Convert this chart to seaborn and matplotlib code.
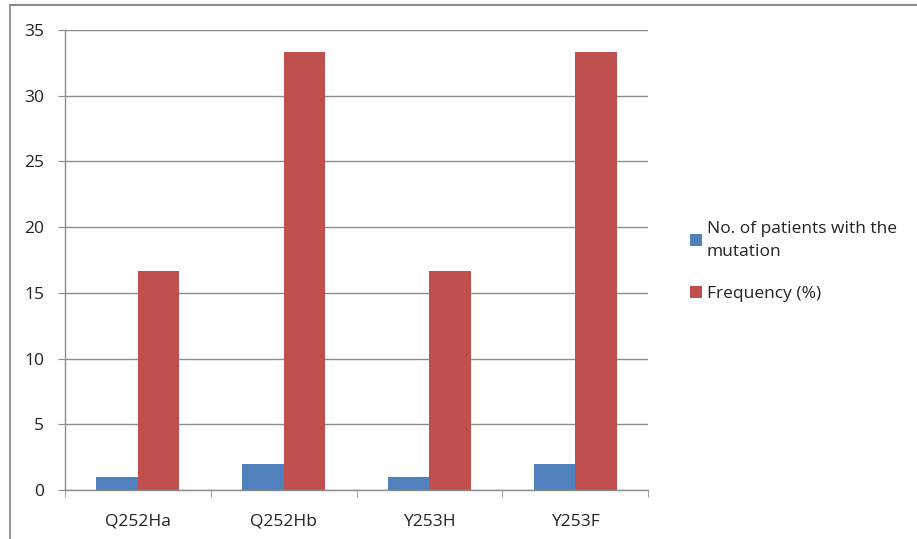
import pandas as pd
import matplotlib
matplotlib.use('Agg')
import matplotlib.pyplot as plt
import seaborn as sns
from matplotlib.patches import Patch
from matplotlib.lines import Line2D

# chart data
mutations = ['Q252Ha', 'Q252Hb', 'Y253H', 'Y253F']
patients = [1, 2, 1, 2]
frequency = [16.67, 33.33, 16.67, 33.33]
series_names = ['No. of patients with the\nmutation', 'Frequency (%)']
colors = ['#4F81BD', '#C0504D']

df = pd.DataFrame({
    'Mutation': mutations * 2,
    'Value': patients + frequency,
    'Series': [series_names[0]] * 4 + [series_names[1]] * 4,
})

sns.set_style("white")
plt.rcParams['font.family'] = ['Open Sans', 'DejaVu Sans']

fig = plt.figure(figsize=(9.17, 5.39), dpi=100)
ax = fig.add_axes([65 / 917, 1 - 490 / 539, 583 / 917, 460 / 539])

sns.barplot(data=df, x='Mutation', y='Value', hue='Series', palette=colors,
            width=0.57, gap=0, saturation=1, linewidth=0, ax=ax, legend=False)

ax.set_xlim(-0.5, 3.5)
ax.set_ylim(0, 35)
ax.set_yticks(range(0, 36, 5))
ax.yaxis.grid(True, color='#8c8c8c', linewidth=1)
ax.set_axisbelow(True)
ax.set_xlabel('')
ax.set_ylabel('')

for s in ['top', 'right']:
    ax.spines[s].set_visible(False)
for s in ['left', 'bottom']:
    ax.spines[s].set_color('#8c8c8c')
    ax.spines[s].set_linewidth(1)

ax.tick_params(axis='y', length=5, color='#8c8c8c', labelsize=12.5, pad=10,
               labelcolor='#222222', left=True)
ax.tick_params(axis='x', which='major', length=0, labelsize=12.5, pad=17,
               labelcolor='#222222')
ax.set_xticks([-0.5, 0.5, 1.5, 2.5, 3.5], minor=True)
ax.tick_params(axis='x', which='minor', length=5, color='#8c8c8c', bottom=True)

handles = [Patch(facecolor=c, edgecolor='none') for c in colors]
leg = fig.legend(handles, series_names, loc='upper left',
                 bbox_to_anchor=(674 / 917, 1 - 205 / 539), frameon=False,
                 fontsize=12.5, handlelength=0.7, handleheight=0.7,
                 handletextpad=0.3, labelspacing=1.5, labelcolor='#222222')
for t in leg.get_texts():
    t.set_linespacing(1.6)

# outer frame (left and top edges)
fig.add_artist(Line2D([10 / 917, 10 / 917], [0, 1 - 5 / 539],
                      transform=fig.transFigure, color='#9a9a9a', lw=1.5))
fig.add_artist(Line2D([10 / 917, 1], [1 - 5 / 539, 1 - 5 / 539],
                      transform=fig.transFigure, color='#8a8a8a', lw=1.5))

fig.savefig('out.png', dpi=100)
